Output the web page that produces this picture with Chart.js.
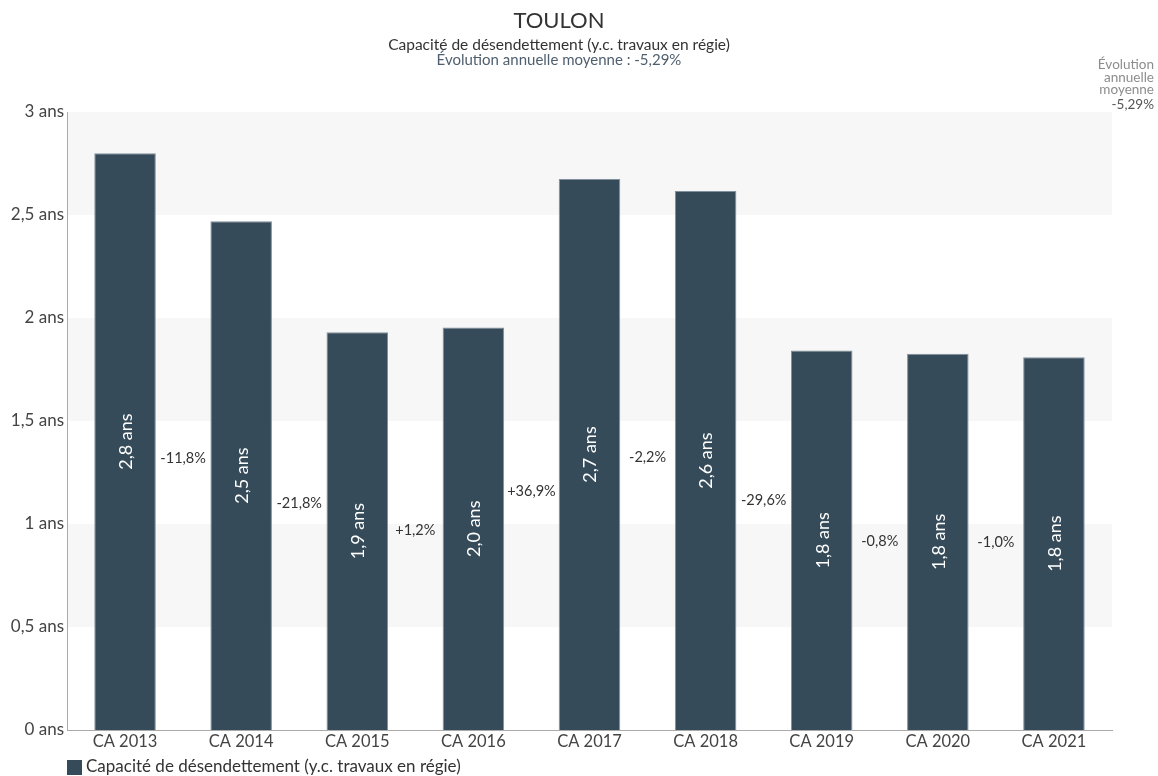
<!DOCTYPE html>
<html lang="fr">
<head>
<meta charset="utf-8">
<title>TOULON - Capacité de désendettement</title>
<script src="https://cdn.jsdelivr.net/npm/chart.js@4/dist/chart.umd.min.js"></script>
<style>
  html, body { margin: 0; padding: 0; background: #fff; }
  canvas { display: block; }
</style>
</head>
<body>
<canvas id="chart" width="1158" height="776"></canvas>
<script>
// Capacité de désendettement, en années
const categories = ['CA 2013', 'CA 2014', 'CA 2015', 'CA 2016', 'CA 2017', 'CA 2018', 'CA 2019', 'CA 2020', 'CA 2021'];
const values = [2.800, 2.470, 1.931, 1.954, 2.675, 2.616, 1.842, 1.827, 1.809];
const avgEvolution = -5.29;
const seriesName = 'Capacité de désendettement (y.c. travaux en régie)';
const cityName = 'TOULON';

const FONT = 'Lato, "Open Sans", sans-serif';
const BAR = '#364b59';

const fr = (n, d) => n.toFixed(d).replace('.', ',');
const ans = v => (Number.isInteger(v) ? String(v) : fr(v, 1)) + ' ans';
const pct = (a, b) => {
  const p = (b / a - 1) * 100;
  return (p > 0 ? '+' : '') + fr(p, 1) + '%';
};

// bandes grises alternées derrière les barres
const bands = {
  id: 'bands',
  beforeDatasetsDraw(chart) {
    const { ctx, chartArea: a, scales: { y } } = chart;
    ctx.save();
    ctx.fillStyle = '#f7f7f7';
    for (let v = 0.5; v < y.max; v += 1) {
      const top = y.getPixelForValue(v + 0.5), bot = y.getPixelForValue(v);
      ctx.fillRect(a.left + 1, top, a.right - a.left - 1, bot - top);
    }
    ctx.restore();
  }
};

// titres, étiquettes des barres, évolutions et légende
const annotations = {
  id: 'annotations',
  afterDatasetsDraw(chart) {
    const { ctx } = chart;
    const bars = chart.getDatasetMeta(0).data;
    ctx.save();

    // valeurs dans les barres
    ctx.fillStyle = '#fff';
    ctx.font = '18px ' + FONT;
    ctx.textAlign = 'center';
    ctx.textBaseline = 'middle';
    bars.forEach((b, i) => {
      ctx.save();
      ctx.translate(b.x + 1, (b.y + b.base) / 2);
      ctx.rotate(-Math.PI / 2);
      ctx.fillText(fr(values[i], 1) + ' ans', 0, 0);
      ctx.restore();
    });

    // évolution d'une année sur l'autre
    ctx.fillStyle = '#333';
    ctx.font = '14.5px ' + FONT;
    for (let i = 0; i < bars.length - 1; i++) {
      const b0 = bars[i], b1 = bars[i + 1];
      const x = (b0.x + b1.x) / 2;
      const y = ((b0.y + b0.base) / 2 + (b1.y + b1.base) / 2) / 2;
      ctx.fillText(pct(values[i], values[i + 1]), x, y);
    }

    // titre
    const cx = 559;
    ctx.fillStyle = '#333';
    ctx.font = '22px ' + FONT;
    ctx.fillText(cityName, cx, 21);
    ctx.font = '15.5px ' + FONT;
    ctx.fillText(seriesName, cx, 45);
    ctx.fillStyle = '#4f5f6d';
    ctx.font = '15px ' + FONT;
    ctx.fillText('Évolution annuelle moyenne : ' + fr(avgEvolution, 2) + '%', cx, 60);

    // encart en haut à droite
    ctx.textAlign = 'right';
    ctx.font = '13.5px ' + FONT;
    ctx.fillStyle = '#8c8c8c';
    ctx.fillText('Évolution', 1154, 65);
    ctx.fillText('annuelle', 1154, 78);
    ctx.fillText('moyenne', 1154, 90);
    ctx.fillStyle = '#555';
    ctx.fillText(fr(avgEvolution, 2) + '%', 1154, 105);

    // légende
    ctx.fillStyle = BAR;
    ctx.fillRect(67, 760, 15, 15);
    ctx.fillStyle = '#333';
    ctx.font = '17px ' + FONT;
    ctx.textAlign = 'left';
    ctx.fillText(seriesName, 86, 767);

    ctx.restore();
  }
};

new Chart(document.getElementById('chart'), {
  type: 'bar',
  data: {
    labels: categories,
    datasets: [{
      label: seriesName,
      data: values,
      backgroundColor: BAR,
      borderColor: '#7f909c',
      borderWidth: 1,
      barPercentage: 0.53,
      categoryPercentage: 1
    }]
  },
  options: {
    responsive: false,
    animation: false,
    layout: { padding: { top: 112, right: 46, bottom: 16, left: 0 } },
    plugins: {
      legend: { display: false },
      title: { display: false },
      tooltip: { enabled: false }
    },
    scales: {
      x: {
        grid: { display: false, drawTicks: false },
        border: { color: '#aaa' },
        ticks: { color: '#444', font: { family: FONT, size: 16.5 }, padding: 2 },
        afterFit: s => { s.height = 30; }
      },
      y: {
        min: 0,
        max: 3,
        grid: { display: false, drawTicks: false },
        border: { color: '#aaa' },
        ticks: { stepSize: 0.5, color: '#444', font: { family: FONT, size: 17 }, padding: 3, callback: v => ans(v) },
        afterFit: s => { s.width = 67; }
      }
    }
  },
  plugins: [bands, annotations]
});
</script>
</body>
</html>
